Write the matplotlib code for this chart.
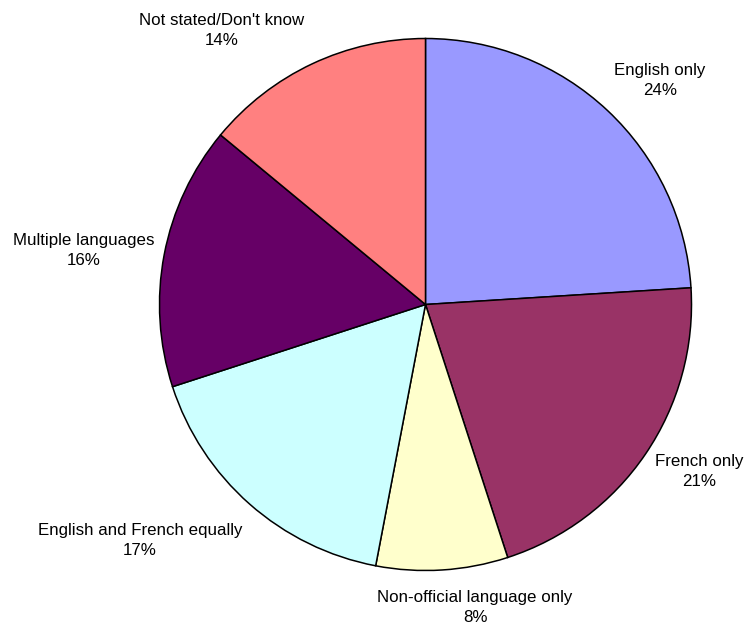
import matplotlib
matplotlib.use("Agg")
import matplotlib.pyplot as plt

# language spoken, share of respondents (%)
categories = ["English only", "French only", "Non-official language only",
              "English and French equally", "Multiple languages",
              "Not stated/Don't know"]
shares = [24, 21, 8, 17, 16, 14]
colors = ["#9999FF", "#993366", "#FFFFCC", "#CCFFFF", "#660066", "#FF8080"]

# label anchor points (pixel coords, y measured from the top; baseline of last line)
label_xy = [(660, 95), (699, 486), (475, 622), (140, 555), (84, 265), (222, 45)]

W, H = 746, 625
fig = plt.figure(figsize=(W / 100, H / 100), dpi=100)
ax = fig.add_axes([0, 0, 1, 1])

ax.pie(shares, colors=colors, startangle=90, counterclock=False,
       center=(425.5, H - 304.5), radius=266,
       wedgeprops=dict(edgecolor="black", linewidth=1.1))
ax.set_xlim(0, W)
ax.set_ylim(0, H)
ax.set_aspect("equal")
ax.axis("off")

for name, val, (x, y) in zip(categories, shares, label_xy):
    ax.text(x, H - y, "%s\n%d%%" % (name, val), ha="center", va="baseline",
            multialignment="center", fontsize=12.2, linespacing=1.45,
            family=["Liberation Sans", "DejaVu Sans"], color="black")

fig.savefig("out.png", dpi=100, facecolor="white")
